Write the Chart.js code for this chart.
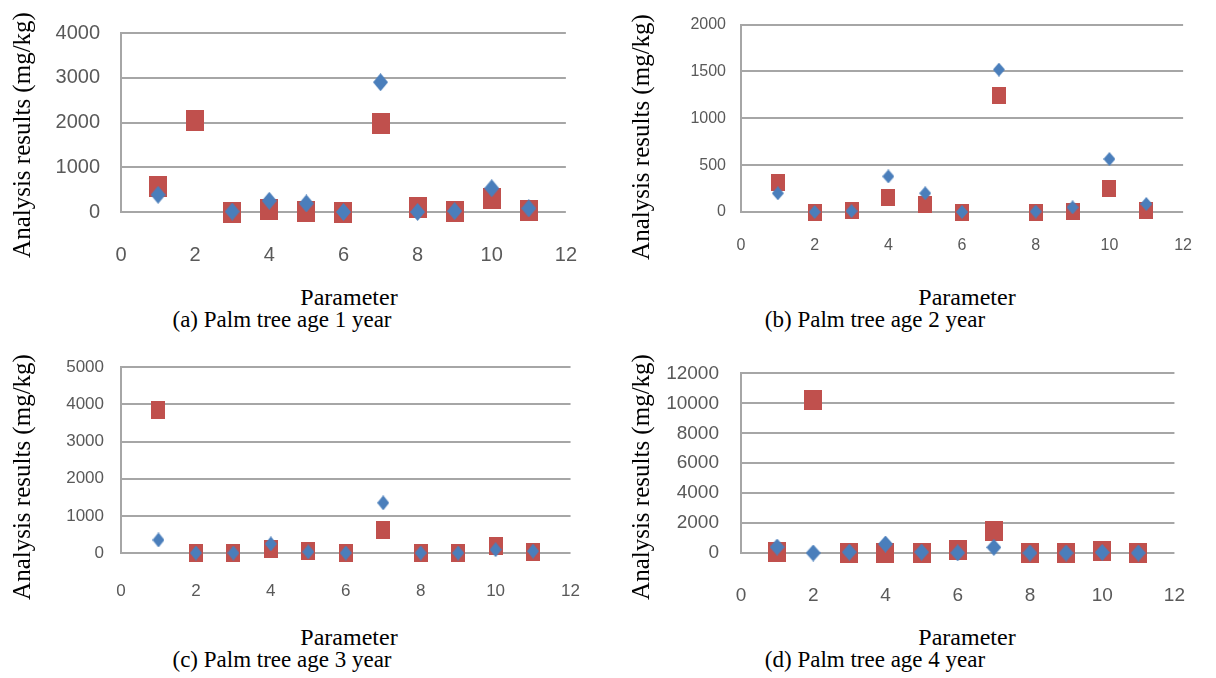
<!DOCTYPE html>
<html>
<head>
<meta charset="utf-8">
<script src="https://cdn.jsdelivr.net/npm/chart.js@4/dist/chart.umd.min.js"></script>
<style>
  body { margin: 0; background: #fff; width: 1216px; height: 678px; position: relative; overflow: hidden; }
  .box { position: absolute; width: 608px; height: 280px; }
  .ytitle, .xtitle, .caption {
    position: absolute; font-family: "Liberation Serif", "Times New Roman", serif;
    color: #000; white-space: nowrap; line-height: 24px; font-size: 24px;
  }
  .ytitle { transform: translate(-50%, -50%) rotate(-90deg); font-size: 25px; }
  .xtitle, .caption { transform: translateX(-50%); }
  .caption { font-size: 23px; }
</style>
</head>
<body>
<div class="box" style="left:0;top:0"><canvas id="chartA"></canvas></div>
<div class="box" style="left:608px;top:0"><canvas id="chartB"></canvas></div>
<div class="box" style="left:0;top:340px"><canvas id="chartC"></canvas></div>
<div class="box" style="left:608px;top:340px"><canvas id="chartD"></canvas></div>

<div class="ytitle" style="left:22px;top:135px">Analysis results (mg/kg)</div>
<div class="ytitle" style="left:641px;top:137px">Analysis results (mg/kg)</div>
<div class="ytitle" style="left:22px;top:477px">Analysis results (mg/kg)</div>
<div class="ytitle" style="left:641px;top:477px">Analysis results (mg/kg)</div>

<div class="xtitle" style="left:349px;top:285px">Parameter</div>
<div class="xtitle" style="left:967px;top:285px">Parameter</div>
<div class="xtitle" style="left:349px;top:625px">Parameter</div>
<div class="xtitle" style="left:967px;top:625px">Parameter</div>

<div class="caption" style="left:282px;top:308px">(a) Palm tree age 1 year</div>
<div class="caption" style="left:875px;top:308px">(b) Palm tree age 2 year</div>
<div class="caption" style="left:282px;top:648px">(c) Palm tree age 3 year</div>
<div class="caption" style="left:875px;top:648px">(d) Palm tree age 4 year</div>

<script>
// parameter numbers on the x axis
const paramNo = [1, 2, 3, 4, 5, 6, 7, 8, 9, 10, 11];

// (a) age 1 year
const blueA = [385, null, 10, 250, 190, 0, 2900, 0, 20, 530, 80];
const redA  = [565, 2050, 0, 60, 20, 0, 1980, 100, 20, 300, 40];
// (b) age 2 year
const blueB = [200, 0, 10, 380, 200, 0, 1520, 5, 50, 565, 85];
const redB  = [310, 0, 15, 155, 75, 0, 1240, 0, 5, 255, 15];
// (c) age 3 year
const blueC = [350, 0, 0, 245, 30, 0, 1350, 0, 0, 90, 50];
const redC  = [3850, 0, 0, 100, 50, 0, 630, 0, 0, 180, 20];
// (d) age 4 year
const blueD = [400, 0, 60, 600, 60, 10, 380, 0, 0, 40, 0];
const redD  = [50, 10200, 0, 0, 20, 180, 1500, 0, 0, 120, 0];

// y axis ticks
const yMaxA = 4000, yStepA = 1000;
const yMaxB = 2000, yStepB = 500;
const yMaxC = 5000, yStepC = 1000;
const yMaxD = 12000, yStepD = 2000;

const xTicks = { min: 0, max: 12, step: 2 };

const BLUE = '#4a7ebb';
const RED = '#c0504d';
const GRID = '#a6a6a6';

// Excel style markers, a bit taller than wide like the picture
function marker(shape, w, h, color) {
  const c = document.createElement('canvas');
  c.width = w; c.height = h;
  const g = c.getContext('2d');
  g.fillStyle = color;
  if (shape === 'square') {
    g.fillRect(0, 0, w, h);
  } else {
    g.beginPath();
    g.moveTo(w / 2, 0);
    g.lineTo(w, h / 2);
    g.lineTo(w / 2, h);
    g.lineTo(0, h / 2);
    g.closePath();
    g.fill();
  }
  return c;
}

function toPoints(vals) {
  return paramNo.map((x, i) => ({ x: x, y: vals[i] })).filter(p => p.y !== null);
}

// cfg: chart area edges inside the 608x280 box
function makePanel(id, blue, red, yMax, yStep, cfg) {
  const ctx = document.getElementById(id).getContext('2d');
  new Chart(ctx, {
    type: 'scatter',
    data: {
      datasets: [
        {
          label: 'blue',
          data: toPoints(blue),
          pointStyle: marker('diamond', cfg.dw, cfg.dh, BLUE),
          clip: false
        },
        {
          label: 'red',
          data: toPoints(red),
          pointStyle: marker('square', cfg.sw, cfg.sh, RED),
          clip: false
        }
      ]
    },
    options: {
      responsive: true,
      maintainAspectRatio: false,
      animation: false,
      layout: { padding: { left: 0, top: cfg.top, right: 608 - cfg.right, bottom: 0 } },
      plugins: { legend: { display: false }, tooltip: { enabled: false } },
      scales: {
        x: {
          type: 'linear',
          min: xTicks.min,
          max: xTicks.max,
          grid: { display: false, drawTicks: false },
          border: { display: false },
          ticks: {
            stepSize: xTicks.step,
            padding: cfg.xPad,
            color: '#595959',
            font: { family: 'Liberation Sans', size: cfg.font },
            callback: v => String(v)
          },
          afterFit: function(scale) { scale.height = 280 - cfg.bottom; }
        },
        y: {
          min: 0,
          max: yMax,
          grid: { color: GRID, lineWidth: 2, drawTicks: false },
          border: { display: true, color: GRID, width: 2 },
          ticks: {
            stepSize: yStep,
            padding: cfg.yPad,
            color: '#595959',
            font: { family: 'Liberation Sans', size: cfg.font },
            callback: v => String(v)
          },
          afterFit: function(scale) { scale.width = cfg.left; }
        }
      }
    }
  });
}

makePanel('chartA', blueA, redA, yMaxA, yStepA,
  { left: 121, right: 577, top: 23, bottom: 212, font: 20, xPad: 31, yPad: 21, dw: 15, dh: 18, sw: 18, sh: 21 });
makePanel('chartB', blueB, redB, yMaxB, yStepB,
  { left: 133, right: 587, top: 19, bottom: 212, font: 16, xPad: 24, yPad: 15, dw: 12, dh: 14, sw: 14, sh: 17 });
makePanel('chartC', blueC, redC, yMaxC, yStepC,
  { left: 121, right: 577, top: 22, bottom: 213, font: 17, xPad: 28, yPad: 17, dw: 12, dh: 15, sw: 14, sh: 18 });
makePanel('chartD', blueD, redD, yMaxD, yStepD,
  { left: 133, right: 585, top: 23, bottom: 213, font: 19, xPad: 31, yPad: 22, dw: 15, dh: 17, sw: 18, sh: 20 });
</script>
</body>
</html>
